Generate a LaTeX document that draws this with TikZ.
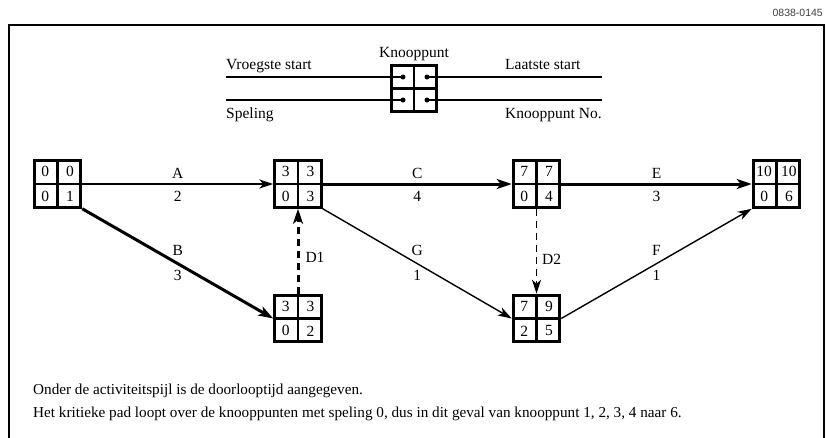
\documentclass[tikz,border=0pt]{standalone}
\usepackage{fontspec}
\setmainfont{Liberation Serif}
\setsansfont{Liberation Sans}
\usetikzlibrary{arrows.meta,calc}
\tikzset{
  netbox/.style={draw, line width=3pt, minimum size=46.5pt, inner sep=0pt},
  cellline/.style={line width=2.7pt},
  num/.style={inner sep=0pt, font=\fontsize{15.5}{18}\selectfont},
  lbl/.style={inner sep=0pt, font=\fontsize{15.5}{18}\selectfont},
  txt/.style={inner sep=0pt, font=\fontsize{15.5}{18}\selectfont},
  foot/.style={inner sep=0pt, font=\fontsize{15.2}{18}\selectfont},
  thinarrow/.style={line width=1.4pt, -{Stealth[length=14pt,width=9pt,inset=4pt]}},
  thickarrow/.style={line width=3pt, -{Stealth[length=15pt,width=10pt,inset=4pt]}},
  dummyarrow/.style={dashed, dash pattern=on 7pt off 5pt},
  frame/.style={line width=1.8pt},
  legline/.style={line width=1.5pt},
}
\newcommand\netnode[7]{%
  \node[netbox] (#1) at (#2,#3) {};
  \draw[cellline] (#1.north) -- (#1.south) (#1.west) -- (#1.east);
  \node[num] (#1-a) at ($(#1.north west)!0.5!(#1.center)$) {#4};
  \node[num] (#1-b) at ($(#1.north east)!0.5!(#1.center)$) {#5};
  \node[num] (#1-c) at ($(#1.south west)!0.5!(#1.center)$) {#6};
  \node[num] (#1-d) at ($(#1.south east)!0.5!(#1.center)$) {#7};
}
\begin{document}
\begin{tikzpicture}[x=1pt,y=-1pt]
\useasboundingbox (0,0) rectangle (827,437);
% frame
\coordinate (fbl) at (9,438);
\coordinate (ftl) at (9,25);
\coordinate (ftr) at (824,25);
\coordinate (fbr) at (824,438);
\draw[frame] (fbl) -- (ftl) -- (ftr) -- (fbr);
\node[anchor=east, inner sep=0pt, text=black!75, font=\sffamily\fontsize{10.5}{12}\selectfont] (code) at (823,13) {0838-0145};

% legend
\node[netbox, minimum size=45.5pt] (leg) at (414,88.5) {};
\draw[cellline] (leg.north) -- (leg.south) (leg.west) -- (leg.east);
\coordinate (ul) at (226,77);
\coordinate (ur) at (602,77);
\coordinate (ll) at (226,100);
\coordinate (lr) at (602,100);
\node[circle, fill, inner sep=0pt, minimum size=5pt] (d1) at (403,77) {};
\node[circle, fill, inner sep=0pt, minimum size=5pt] (d2) at (427,77) {};
\node[circle, fill, inner sep=0pt, minimum size=5pt] (d3) at (403,100) {};
\node[circle, fill, inner sep=0pt, minimum size=5pt] (d4) at (427,100) {};
\draw[legline] (ul) -- (d1.center) (d2.center) -- (ur);
\draw[legline] (ll) -- (d3.center) (d4.center) -- (lr);
\node[txt, anchor=base] (kp) at (414,57) {Knooppunt};
\node[txt, anchor=base west] (vs) at (226,69) {Vroegste start};
\node[txt, anchor=base west] (ls) at (505,69) {Laatste start};
\node[txt, anchor=base west] (sp) at (226,118) {Speling};
\node[txt, anchor=base west] (kn) at (505,118) {Knooppunt No.};

% network nodes
\netnode{n1}{57.5}{184}{0}{0}{0}{1}
\netnode{n2}{298}{184}{3}{3}{0}{3}
\netnode{n3}{298}{318.5}{3}{3}{0}{2}
\netnode{n4}{536.5}{184}{7}{7}{0}{4}
\netnode{n5}{536.5}{318.5}{7}{9}{2}{5}
\netnode{n6}{776.5}{184}{10}{10}{0}{6}

% activities
\draw[thinarrow] (n1.east) -- node[lbl, yshift=11pt] (lA) {A} node[lbl, yshift=-12pt] (dA) {2} (n2.west);
\draw[thickarrow] (n1.south east) -- node[lbl, yshift=13pt] (lB) {B} node[lbl, yshift=-12pt] (dB) {3} (n3.west);
\draw[thickarrow] (n2.east) -- node[lbl, yshift=11pt] (lC) {C} node[lbl, yshift=-12pt] (dC) {4} (n4.west);
\draw[thinarrow] (n2.south east) -- node[lbl, yshift=13pt] (lG) {G} node[lbl, yshift=-12pt] (dG) {1} (n5.west);
\draw[thickarrow] (n4.east) -- node[lbl, yshift=11pt] (lE) {E} node[lbl, yshift=-12pt] (dE) {3} (n6.west);
\draw[thinarrow] (n5.east) -- node[lbl, yshift=13pt] (lF) {F} node[lbl, yshift=-12pt] (dF) {1} (n6.south west);
\draw[thickarrow, dummyarrow] (n3.north) -- node[lbl, anchor=west, xshift=6pt, yshift=-6pt] (lD1) {D1} (n2.south);
\draw[thinarrow, dummyarrow] (n4.south) -- node[lbl, anchor=west, xshift=5pt, yshift=-8pt] (lD2) {D2} (n5.north);

% footnote
\node[foot, anchor=base west] (t1) at (33,394) {Onder de activiteitspijl is de doorlooptijd aangegeven.};
\node[foot, anchor=base west] (t2) at (33,417) {Het kritieke pad loopt over de knooppunten met speling 0, dus in dit geval van knooppunt 1, 2, 3, 4 naar 6.};
\end{tikzpicture}
\end{document}
